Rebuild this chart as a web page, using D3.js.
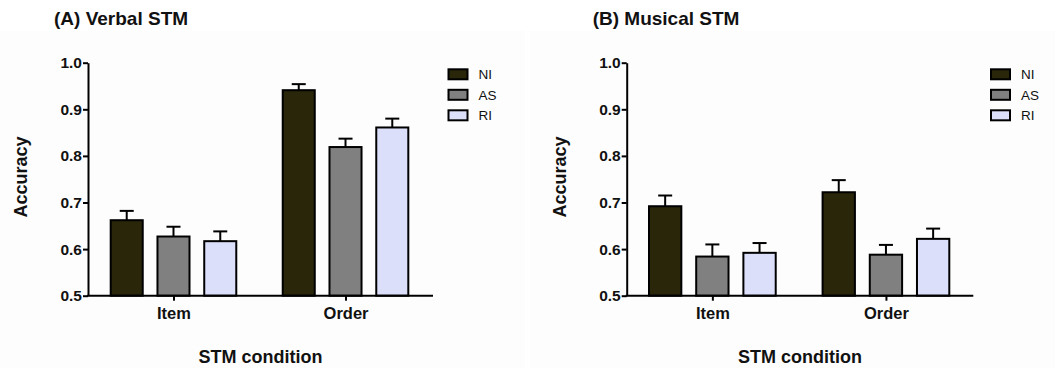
<!DOCTYPE html>
<html><head><meta charset="utf-8">
<script src="https://cdn.jsdelivr.net/npm/d3@7"></script>
<style>body{margin:0;background:#fff;}svg{display:block;font-family:"Liberation Sans",Arial,sans-serif;}</style>
</head><body><svg id="c" width="1055" height="368"></svg>
<script>
const categories = ["Item", "Order"];
const seriesNames = ["NI", "AS", "RI"];
const colors = ["#29260a", "#808080", "#dcdffa"];
const yTicks = [0.5, 0.6, 0.7, 0.8, 0.9, 1.0];
const titles = ["(A) Verbal STM", "(B) Musical STM"];
// values[series][category]
const verbalMeans = [[0.662, 0.941], [0.627, 0.819], [0.617, 0.861]];
const verbalErr   = [[0.020, 0.013], [0.021, 0.018], [0.021, 0.019]];
const musicalMeans = [[0.692, 0.722], [0.584, 0.588], [0.592, 0.622]];
const musicalErr   = [[0.023, 0.026], [0.026, 0.021], [0.021, 0.022]];

const svg = d3.select("#c");

function panel(ox, axisX, axisEnd, barStart, barEnd, means, errs, title, legendX) {
  const g = svg.append("g").attr("transform", `translate(${ox},0)`);
  g.append("rect").attr("x", 0).attr("y", 31).attr("width", 525).attr("height", 337).attr("fill", "#fdfdfd");
  const y = d3.scaleLinear().domain([0.5, 1.0]).range([295.7, 62.7]);
  const x0 = d3.scaleBand().domain(categories).range([barStart, barEnd]).paddingInner(0.27).paddingOuter(0);
  const x1 = d3.scaleBand().domain(seriesNames).range([0, x0.bandwidth()]).paddingInner(0.315);

  // bars
  categories.forEach((c, ci) => {
    seriesNames.forEach((s, si) => {
      const v = means[si][ci], e = errs[si][ci];
      const bx = x0(c) + x1(s), bw = x1.bandwidth();
      const cx = bx + bw / 2;
      g.append("line").attr("x1", cx).attr("x2", cx).attr("y1", y(v)).attr("y2", y(v + e))
        .attr("stroke", "#000").attr("stroke-width", 2);
      g.append("line").attr("x1", cx - 7).attr("x2", cx + 7).attr("y1", y(v + e)).attr("y2", y(v + e))
        .attr("stroke", "#000").attr("stroke-width", 2);
      g.append("rect").attr("x", bx).attr("y", y(v)).attr("width", bw).attr("height", y(0.5) - y(v))
        .attr("fill", colors[si]).attr("stroke", "#000").attr("stroke-width", 2);
    });
  });

  // y axis
  const ya = g.append("g").attr("transform", `translate(${axisX},0)`)
    .call(d3.axisLeft(y).tickValues(yTicks).tickFormat(d3.format(".1f")).tickSize(5).tickSizeOuter(0));
  ya.select(".domain").attr("stroke-width", 2);
  ya.selectAll(".tick line").attr("stroke-width", 2);
  ya.selectAll(".tick text").attr("font-size", 15.5).attr("font-weight", "bold").attr("fill", "#111").attr("x", -6);

  // x axis
  const xa = g.append("g").attr("transform", `translate(0,${y(0.5)})`)
    .call(d3.axisBottom(d3.scalePoint().domain(categories).range([x0("Item") + x0.bandwidth() / 2, x0("Order") + x0.bandwidth() / 2]))
      .tickSize(5).tickSizeOuter(0));
  xa.select(".domain").remove();
  xa.append("line").attr("x1", axisX - 1).attr("x2", axisEnd).attr("stroke", "#000").attr("stroke-width", 2);
  xa.selectAll(".tick line").attr("stroke-width", 2);
  xa.selectAll(".tick text").attr("font-size", 16.5).attr("font-weight", "bold").attr("fill", "#111").attr("dy", "0.9em");

  // titles
  g.append("text").attr("x", axisX - 34).attr("y", 25).attr("font-size", 19).attr("font-weight", "bold").attr("fill", "#111").text(title);
  g.append("text").attr("transform", `translate(${axisX - 61},${177}) rotate(-90)`).attr("text-anchor", "middle")
    .attr("font-size", 18).attr("font-weight", "bold").attr("fill", "#111").text("Accuracy");
  g.append("text").attr("x", (axisX + axisEnd) / 2).attr("y", 363).attr("text-anchor", "middle")
    .attr("font-size", 18).attr("font-weight", "bold").attr("fill", "#111").text("STM condition");

  // legend
  seriesNames.forEach((s, i) => {
    const ly = 74.3 + i * 20.5;
    g.append("rect").attr("x", legendX).attr("y", ly - 5).attr("width", 19).attr("height", 10)
      .attr("fill", colors[i]).attr("stroke", "#000").attr("stroke-width", 2);
    g.append("text").attr("x", legendX + 30).attr("y", ly).attr("dy", "0.35em").attr("font-size", 13.5).attr("fill", "#111").text(s);
  });
}

panel(0, 88, 433, 110.7, 408.3, verbalMeans, verbalErr, titles[0], 448.5);
panel(530, 96.7, 443.3, 119, 419.3, musicalMeans, musicalErr, titles[1], 461);
</script></body></html>
